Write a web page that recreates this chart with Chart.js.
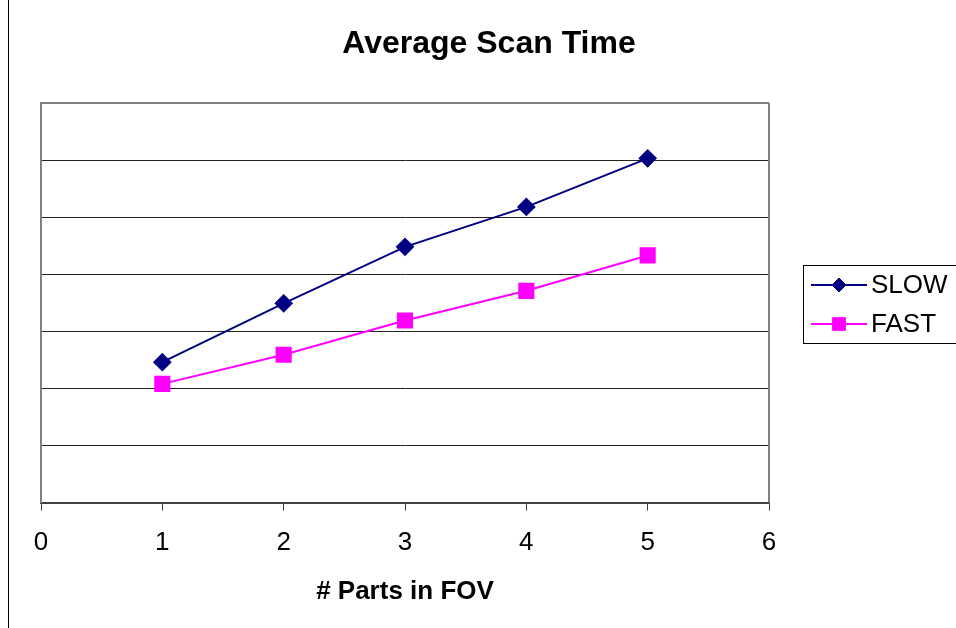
<!DOCTYPE html>
<html>
<head>
<meta charset="utf-8">
<title>Average Scan Time</title>
<script src="https://cdn.jsdelivr.net/npm/chart.js@4/dist/chart.umd.min.js"></script>
<style>
  html, body { margin: 0; padding: 0; background: #fff; }
  canvas { display: block; }
</style>
</head>
<body>
<canvas id="scanChart" width="956" height="628"></canvas>
<script>
// valori (axa Y nu are etichete)
const parts = [1, 2, 3, 4, 5];
const slowTimes = [24.6, 34.9, 44.8, 51.8, 60.3];
const fastTimes = [20.8, 25.9, 31.9, 37.1, 43.3];
const xTicks = [0, 1, 2, 3, 4, 5, 6];
const chartTitle = 'Average Scan Time';

const toPoints = (vals) => parts.map((p, i) => ({ x: p, y: vals[i] }));

Chart.defaults.font.family = '"Liberation Sans", Arial, sans-serif';
Chart.defaults.color = '#000';

// rama graficului, titlul centrat pe toata rama, chenarul din dreapta
const frame = {
    id: 'frame',
    beforeDraw(chart) {
        const { ctx } = chart;
        ctx.save();
        ctx.fillStyle = '#fff';
        ctx.fillRect(0, 0, chart.width, chart.height);
        ctx.strokeStyle = '#000';
        ctx.lineWidth = 1;
        ctx.beginPath();
        ctx.moveTo(8.5, 0);
        ctx.lineTo(8.5, chart.height);
        ctx.stroke();
        ctx.fillStyle = '#000';
        ctx.font = 'bold 32px "Liberation Sans", Arial, sans-serif';
        ctx.textAlign = 'center';
        ctx.textBaseline = 'middle';
        ctx.fillText(chartTitle, 489, 44);
        ctx.restore();
    },
    afterDatasetsDraw(chart) {
        const { ctx, chartArea: a } = chart;
        ctx.save();
        ctx.strokeStyle = '#808080';
        ctx.lineWidth = 2;
        ctx.beginPath();
        ctx.moveTo(a.right, a.top);
        ctx.lineTo(a.right, a.bottom);
        ctx.stroke();
        ctx.restore();
    }
};

// legenda in stil Excel (linie + marker)
const excelLegend = {
    id: 'excelLegend',
    afterDraw(chart) {
        const { ctx, chartArea: a } = chart;
        const left = a.right + 34, top = 265, rowH = 39;
        ctx.save();
        ctx.strokeStyle = '#000';
        ctx.lineWidth = 1;
        ctx.strokeRect(left + 0.5, top + 0.5, chart.width, rowH * 2);
        chart.data.datasets.forEach((ds, i) => {
            const cy = top + 20 + i * rowH;
            ctx.strokeStyle = ds.borderColor;
            ctx.lineWidth = 2;
            ctx.beginPath();
            ctx.moveTo(left + 8, cy);
            ctx.lineTo(left + 64, cy);
            ctx.stroke();
            ctx.fillStyle = ds.pointBackgroundColor;
            ctx.strokeStyle = ds.pointBorderColor;
            ctx.lineWidth = 1;
            Chart.helpers.drawPoint(ctx, {
                pointStyle: ds.pointStyle, radius: ds.pointRadius - 1, borderWidth: 1
            }, left + 36, cy);
            ctx.fillStyle = '#000';
            ctx.font = '26px "Liberation Sans", Arial, sans-serif';
            ctx.textBaseline = 'middle';
            ctx.fillText(ds.label, left + 68, cy + 1);
        });
        ctx.restore();
    }
};

new Chart(document.getElementById('scanChart'), {
    type: 'line',
    data: {
        datasets: [{
            label: 'SLOW',
            data: toPoints(slowTimes),
            borderColor: '#000080',
            backgroundColor: '#000080',
            pointBackgroundColor: '#000080',
            pointBorderColor: '#000080',
            pointStyle: 'rectRot',
            pointRadius: 8,
            borderWidth: 2,
            tension: 0
        }, {
            label: 'FAST',
            data: toPoints(fastTimes),
            borderColor: '#ff00ff',
            backgroundColor: '#ff00ff',
            pointBackgroundColor: '#ff00ff',
            pointBorderColor: '#ff00ff',
            pointStyle: 'rect',
            pointRadius: 10,
            borderWidth: 2,
            tension: 0
        }]
    },
    options: {
        responsive: false,
        animation: false,
        layout: { padding: { left: 41, right: 187, top: 103, bottom: 21 } },
        plugins: {
            legend: { display: false },
            tooltip: { enabled: false },
            title: { display: false }
        },
        scales: {
            x: {
                type: 'linear',
                min: xTicks[0],
                max: xTicks[xTicks.length - 1],
                afterBuildTicks: (axis) => { axis.ticks = xTicks.map(v => ({ value: v })); },
                border: { color: '#404040', width: 2 },
                grid: { drawOnChartArea: false, drawTicks: true, tickLength: 8, color: '#404040' },
                ticks: { font: { size: 26 }, color: '#000', padding: 17, maxRotation: 0 },
                title: {
                    display: true,
                    text: '# Parts in FOV',
                    font: { size: 26, weight: 'bold' },
                    color: '#000',
                    padding: { top: 0, bottom: 0 }
                }
            },
            y: {
                min: 0,
                max: 70,
                ticks: { display: false, stepSize: 10 },
                border: { color: '#808080', width: 2 },
                grid: {
                    drawTicks: false,
                    color: (c) => c.tick && c.tick.value === 70 ? '#808080' : '#222',
                    lineWidth: (c) => c.tick && c.tick.value === 70 ? 2 : 1
                }
            }
        }
    },
    plugins: [frame, excelLegend]
});
</script>
</body>
</html>
